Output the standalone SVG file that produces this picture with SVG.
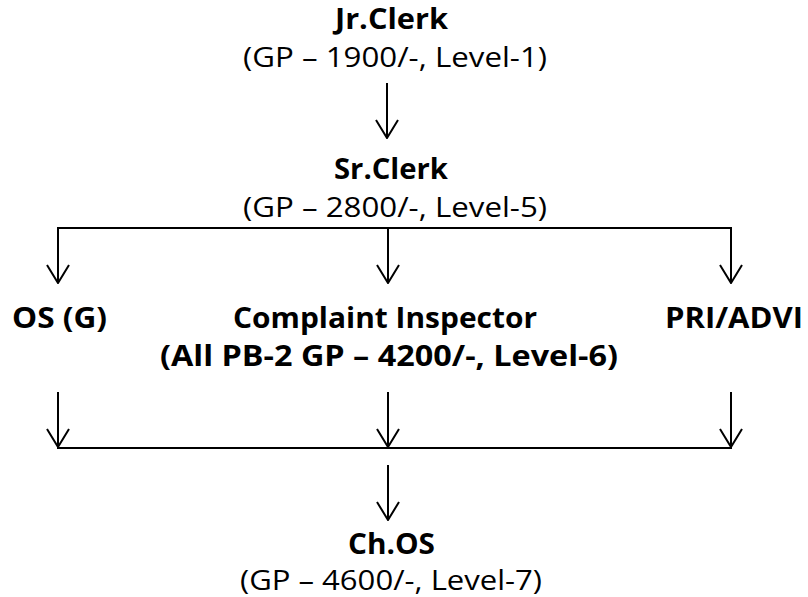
<svg xmlns="http://www.w3.org/2000/svg" width="808" height="597" viewBox="0 0 808 597">
<defs>
<marker id="arr" viewBox="0 0 20 24" refX="19" refY="12" markerWidth="20" markerHeight="24" markerUnits="userSpaceOnUse" orient="auto">
<path d="M1,1 L19,12 L1,23" fill="none" stroke="#000" stroke-width="2"/>
</marker>
<style>
text{font-family:"Open Sans","Noto Sans",sans-serif;fill:#000;text-anchor:middle;font-size:28px}
.b{font-weight:bold}
.c line{stroke:#000;stroke-width:2;fill:none}
.c line.a{marker-end:url(#arr)}
</style>
</defs>
<rect width="808" height="597" fill="#fff"/>
<g id="jr-clerk"><text class="b" x="391.5" y="29" textLength="113" lengthAdjust="spacingAndGlyphs">Jr.Clerk</text><text x="395" y="67" textLength="304" lengthAdjust="spacingAndGlyphs">(GP – 1900/-, Level-1)</text></g>
<g id="sr-clerk"><text class="b" x="391" y="179" textLength="114" lengthAdjust="spacingAndGlyphs">Sr.Clerk</text><text x="395" y="217" textLength="304" lengthAdjust="spacingAndGlyphs">(GP – 2800/-, Level-5)</text></g>
<g id="os-g"><text class="b" x="59.5" y="328" textLength="95" lengthAdjust="spacingAndGlyphs">OS (G)</text></g>
<g id="complaint-inspector"><text class="b" x="385" y="328" textLength="304" lengthAdjust="spacingAndGlyphs">Complaint Inspector</text><text class="b" x="389" y="366" textLength="458" lengthAdjust="spacingAndGlyphs">(All PB-2 GP – 4200/-, Level-6)</text></g>
<g id="pri-advi"><text class="b" x="734" y="328" textLength="138" lengthAdjust="spacingAndGlyphs">PRI/ADVI</text></g>
<g id="ch-os"><text class="b" x="391.5" y="554" textLength="87" lengthAdjust="spacingAndGlyphs">Ch.OS</text><text x="391" y="590" textLength="302" lengthAdjust="spacingAndGlyphs">(GP – 4600/-, Level-7)</text></g>
<g id="connectors" class="c">
<line class="a" x1="387" y1="83" x2="387" y2="138"/>
<line x1="57" y1="228" x2="732" y2="228"/>
<line class="a" x1="58" y1="228" x2="58" y2="283"/>
<line class="a" x1="388" y1="228" x2="388" y2="283"/>
<line class="a" x1="731" y1="228" x2="731" y2="283"/>
<line class="a" x1="58" y1="392" x2="58" y2="447"/>
<line class="a" x1="388" y1="392" x2="388" y2="447"/>
<line class="a" x1="731" y1="392" x2="731" y2="447"/>
<line x1="57" y1="448" x2="732" y2="448"/>
<line class="a" x1="388" y1="465" x2="388" y2="520"/>
</g>
</svg>
